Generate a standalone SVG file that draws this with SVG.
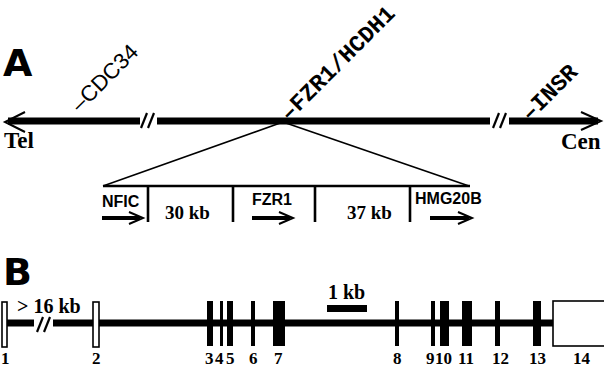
<svg xmlns="http://www.w3.org/2000/svg" width="604" height="367" viewBox="0 0 604 367">
<style>
.lbl{font-family:"DejaVu Sans",sans-serif;font-weight:bold;font-size:38px;fill:#000}
.ser{font-family:"Liberation Serif",serif;font-weight:bold;fill:#000}
.sans{font-family:"Liberation Sans",Arial,sans-serif;font-weight:bold;font-size:16px;fill:#000}
.mono{font-family:"Liberation Mono",monospace;font-weight:bold;font-size:23px;fill:#000}
.thick{stroke:#000;stroke-width:7;fill:none}
.thin{stroke:#000;stroke-width:1.6;fill:none}
.tick{stroke:#000;stroke-width:2.6;fill:none}
.head{stroke:#000;stroke-width:2;fill:none}
.slash{stroke:#000;stroke-width:2.2;fill:none}
.ex{fill:#000}
.exo{fill:#fff;stroke:#000;stroke-width:1.6}
.num{font-family:"Liberation Serif",serif;font-weight:bold;font-size:17px;fill:#000}
</style>
<rect width="604" height="367" fill="#fff"/>

<g id="panelA-label"><text class="lbl" x="3" y="76">A</text></g>
<g id="panelB-label"><text class="lbl" x="3" y="285">B</text></g>

<g id="connectors">
  <line class="thick" x1="8" y1="121" x2="140" y2="121"/>
  <line class="thick" x1="157" y1="121" x2="490" y2="121"/>
  <line class="thick" x1="509" y1="121" x2="598" y2="121"/>
  <polyline class="head" points="25,112 5,122 25,132"/>
  <polyline class="head" points="581,112 601,121 581,130"/>
  <line class="slash" x1="141" y1="128" x2="147" y2="113"/>
  <line class="slash" x1="148" y1="128" x2="154" y2="113"/>
  <line class="slash" x1="493" y1="128" x2="499" y2="113"/>
  <line class="slash" x1="500" y1="128" x2="506" y2="113"/>
  <line class="thin" x1="283" y1="122" x2="103" y2="186"/>
  <line class="thin" x1="283" y1="122" x2="469" y2="186"/>
  <line class="tick" x1="103" y1="186" x2="470" y2="186"/>
  <line class="tick" x1="148" y1="186" x2="148" y2="222"/>
  <line class="tick" x1="233" y1="186" x2="233" y2="222"/>
  <line class="tick" x1="315" y1="186" x2="315" y2="222"/>
  <line class="tick" x1="410" y1="186" x2="410" y2="222"/>
  <line stroke="#000" stroke-width="4" x1="102" y1="218" x2="140" y2="218"/>
  <polyline class="head" points="129,212 143,218 129,224"/>
  <line stroke="#000" stroke-width="4" x1="252" y1="218" x2="290" y2="218"/>
  <polyline class="head" points="279,212 293,218 279,224"/>
  <line stroke="#000" stroke-width="4" x1="430" y1="218" x2="469" y2="218"/>
  <polyline class="head" points="458,212 472,218 458,224"/>
  <line class="thick" x1="7" y1="323" x2="34" y2="323"/>
  <line class="thick" x1="53" y1="323" x2="553" y2="323"/>
  <line class="slash" x1="37" y1="332" x2="43" y2="317"/>
  <line class="slash" x1="44" y1="332" x2="50" y2="317"/>
  <rect class="ex" x="327" y="305" width="40" height="7"/>
</g>

<g id="chromosome-labels">
  <text class="ser" font-size="23" x="4" y="148">Tel</text>
  <text class="ser" font-size="23" x="561" y="149">Cen</text>
  <text transform="translate(80,113) rotate(-45)" font-family="Liberation Sans, Arial, sans-serif" font-size="22" fill="#000">–CDC34</text>
  <text class="mono" transform="translate(289,122) rotate(-45)">–FZR1/HCDH1</text>
  <text class="mono" transform="translate(530,122) rotate(-45)">–INSR</text>
</g>

<g id="gene-NFIC"><text class="sans" x="102" y="207">NFIC</text></g>
<g id="gap-30kb"><text class="ser" font-size="19" x="165" y="219">30 kb</text></g>
<g id="gene-FZR1"><text class="sans" x="252" y="205">FZR1</text></g>
<g id="gap-37kb"><text class="ser" font-size="19" x="347" y="219">37 kb</text></g>
<g id="gene-HMG20B"><text class="sans" x="415" y="204">HMG20B</text></g>

<g id="intron-label"><text class="ser" font-size="20" x="17" y="313">&gt; 16 kb</text></g>
<g id="scale-label"><text class="ser" font-size="20" x="328" y="299">1 kb</text></g>

<g id="exons">
  <rect class="exo" x="2" y="302" width="5" height="45"/>
  <rect class="exo" x="93" y="302" width="6" height="45"/>
  <rect class="ex" x="207" y="301" width="6" height="45"/>
  <rect class="ex" x="220" y="301" width="3" height="45"/>
  <rect class="ex" x="227" y="301" width="6" height="45"/>
  <rect class="ex" x="251" y="301" width="4" height="45"/>
  <rect class="ex" x="273" y="301" width="12" height="45"/>
  <rect class="ex" x="395" y="301" width="4" height="45"/>
  <rect class="ex" x="431" y="301" width="4" height="45"/>
  <rect class="ex" x="440" y="301" width="9" height="45"/>
  <rect class="ex" x="462" y="301" width="10" height="45"/>
  <rect class="ex" x="495" y="301" width="5" height="45"/>
  <rect class="ex" x="533" y="301" width="8" height="45"/>
  <rect class="exo" x="553" y="301" width="52" height="45" stroke-width="2"/>
</g>

<g id="exon-numbers">
  <text class="num" x="1" y="364">1</text>
  <text class="num" x="92" y="364">2</text>
  <text class="num" x="205" y="364">3</text>
  <text class="num" x="215" y="364">4</text>
  <text class="num" x="226" y="364">5</text>
  <text class="num" x="249" y="364">6</text>
  <text class="num" x="274" y="364">7</text>
  <text class="num" x="393" y="364">8</text>
  <text class="num" x="426" y="364">9</text>
  <text class="num" x="435" y="364">10</text>
  <text class="num" x="458" y="364">11</text>
  <text class="num" x="492" y="364">12</text>
  <text class="num" x="529" y="364">13</text>
  <text class="num" x="573" y="364">14</text>
</g>
</svg>
